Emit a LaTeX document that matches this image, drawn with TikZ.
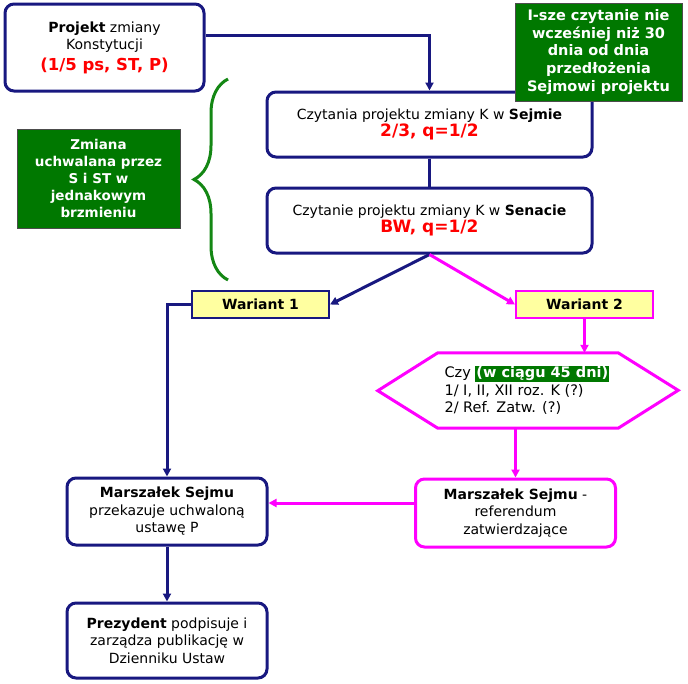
\documentclass[tikz,border=0pt]{standalone}
\usepackage{fontspec}
\setmainfont{DejaVu Sans}
\usetikzlibrary{positioning, arrows.meta, calc, decorations.pathreplacing}

\definecolor{navy}{RGB}{24,24,128}
\definecolor{magen}{RGB}{255,0,255}
\definecolor{dgreen}{RGB}{0,120,0}
\definecolor{bgreen}{RGB}{20,135,20}
\definecolor{wyellow}{RGB}{255,255,160}

\begin{document}
\begin{tikzpicture}[x=1pt, y=-1pt,
  box/.style={draw=navy, line width=3pt, rounded corners=9pt, fill=white,
              minimum width=200pt, align=center, font=\fontsize{14}{17.5}\selectfont},
  pbox/.style={box, draw=magen},
  note/.style={draw=black!70, line width=0.8pt, fill=dgreen, text=white, align=center,
               font=\fontsize{14.5}{17.7}\selectfont\bfseries},
  wbox/.style={draw=navy, line width=2pt, fill=wyellow, minimum width=137pt,
               minimum height=27pt, font=\fontsize{14}{14}\selectfont\bfseries},
  arr/.style={-{Triangle[length=8pt, width=8pt]}, line width=3pt, color=navy},
  parr/.style={arr, color=magen},
]
\useasboundingbox (0,0) rectangle (688,683);

% ---------- Main boxes ----------
\node[box, minimum width=199pt, minimum height=87pt] (proj) at (104.5,47.5)
  {\textbf{Projekt} zmiany\\Konstytucji\\[3pt]{\color{red}\fontsize{16.5}{20}\selectfont\bfseries (1/5 ps, ST, P)}};
\node[box, minimum width=325pt, minimum height=65pt] (sejm) at (429.5,124.5)
  {Czytania projektu zmiany K w \textbf{Sejmie}\\[-1pt]{\color{red}\fontsize{17}{17}\selectfont\bfseries 2/3, q=1/2}};
\node[box, minimum width=325pt, minimum height=65pt] (senat) at (429.5,220.5)
  {Czytanie projektu zmiany K w \textbf{Senacie}\\[-1pt]{\color{red}\fontsize{17}{17}\selectfont\bfseries BW, q=1/2}};

% ---------- Green notes ----------
\node[note, minimum width=167pt, minimum height=98pt] (first) at (598.5,52)
  {I-sze czytanie nie\\wcześniej niż 30\\dnia od dnia\\przedłożenia\\Sejmowi projektu};
\node[note, minimum width=163pt, minimum height=99pt, font=\fontsize{13.5}{17}\selectfont\bfseries]
  (same) at (98.5,178.5)
  {Zmiana\\uchwalana przez\\S i ST w\\jednakowym\\brzmieniu};

% ---------- Brace ----------
\coordinate (braceB) at (228,280);
\coordinate (braceT) at (228,79);
\draw[bgreen, line width=3pt, decorate, decoration={brace, amplitude=34pt, aspect=0.5}]
  (braceB) -- (braceT);

% ---------- Variants ----------
\node[wbox] (w1) at (260.5,304.5) {Wariant 1};
\node[wbox, draw=magen] (w2) at (584.5,304.5) {Wariant 2};

% ---------- Hexagon ----------
\node[minimum width=180pt, minimum height=75pt] (czy) at (528,390.5) {};
\draw[magen, line width=3pt] (czy.north west) -- (czy.north east) -- ++(60,37.5)
  -- (czy.south east) -- (czy.south west) -- ++(-60,-37.5) -- cycle;
\node[anchor=west, align=left, font=\fontsize{14.5}{17.5}\selectfont] (czytxt) at (441,390)
  {Czy {\setlength{\fboxsep}{1pt}\colorbox{dgreen}{\textcolor{white}{\bfseries (w ciągu 45 dni)}}}\\
   1/ I, II, XII roz. K (?)\\2/ Ref. Zatw. (?)};

% ---------- Lower boxes ----------
\node[box, minimum height=67pt] (ms) at (167,511.5)
  {\textbf{Marszałek Sejmu}\\przekazuje uchwaloną\\ustawę P};
\node[pbox, minimum height=68pt] (msref) at (515.5,513)
  {\textbf{Marszałek Sejmu} -\\referendum\\zatwierdzające};
\node[box, minimum height=75pt] (prez) at (167,640.5)
  {\textbf{Prezydent} podpisuje i\\zarządza publikację w\\Dzienniku Ustaw};

% ---------- Connectors ----------
\draw[arr] ([yshift=12pt]proj.east) -| (sejm.north);
\draw[line width=3pt, navy] (sejm.south) -- (senat.north);
\draw[arr] (senat.south) -- (w1.east);
\draw[parr] (senat.south) -- (w2.west);
\draw[arr] (w1.west) -| (ms.north);
\draw[parr] (w2.south) -- (w2.south |- czy.north);
\draw[parr] (msref.north |- czy.south) -- (msref.north);
\draw[parr] ([yshift=10pt]msref.west) -- ([yshift=10pt]msref.west -| ms.east);
\draw[arr] (ms.south) -- (prez.north);

\end{tikzpicture}
\end{document}
